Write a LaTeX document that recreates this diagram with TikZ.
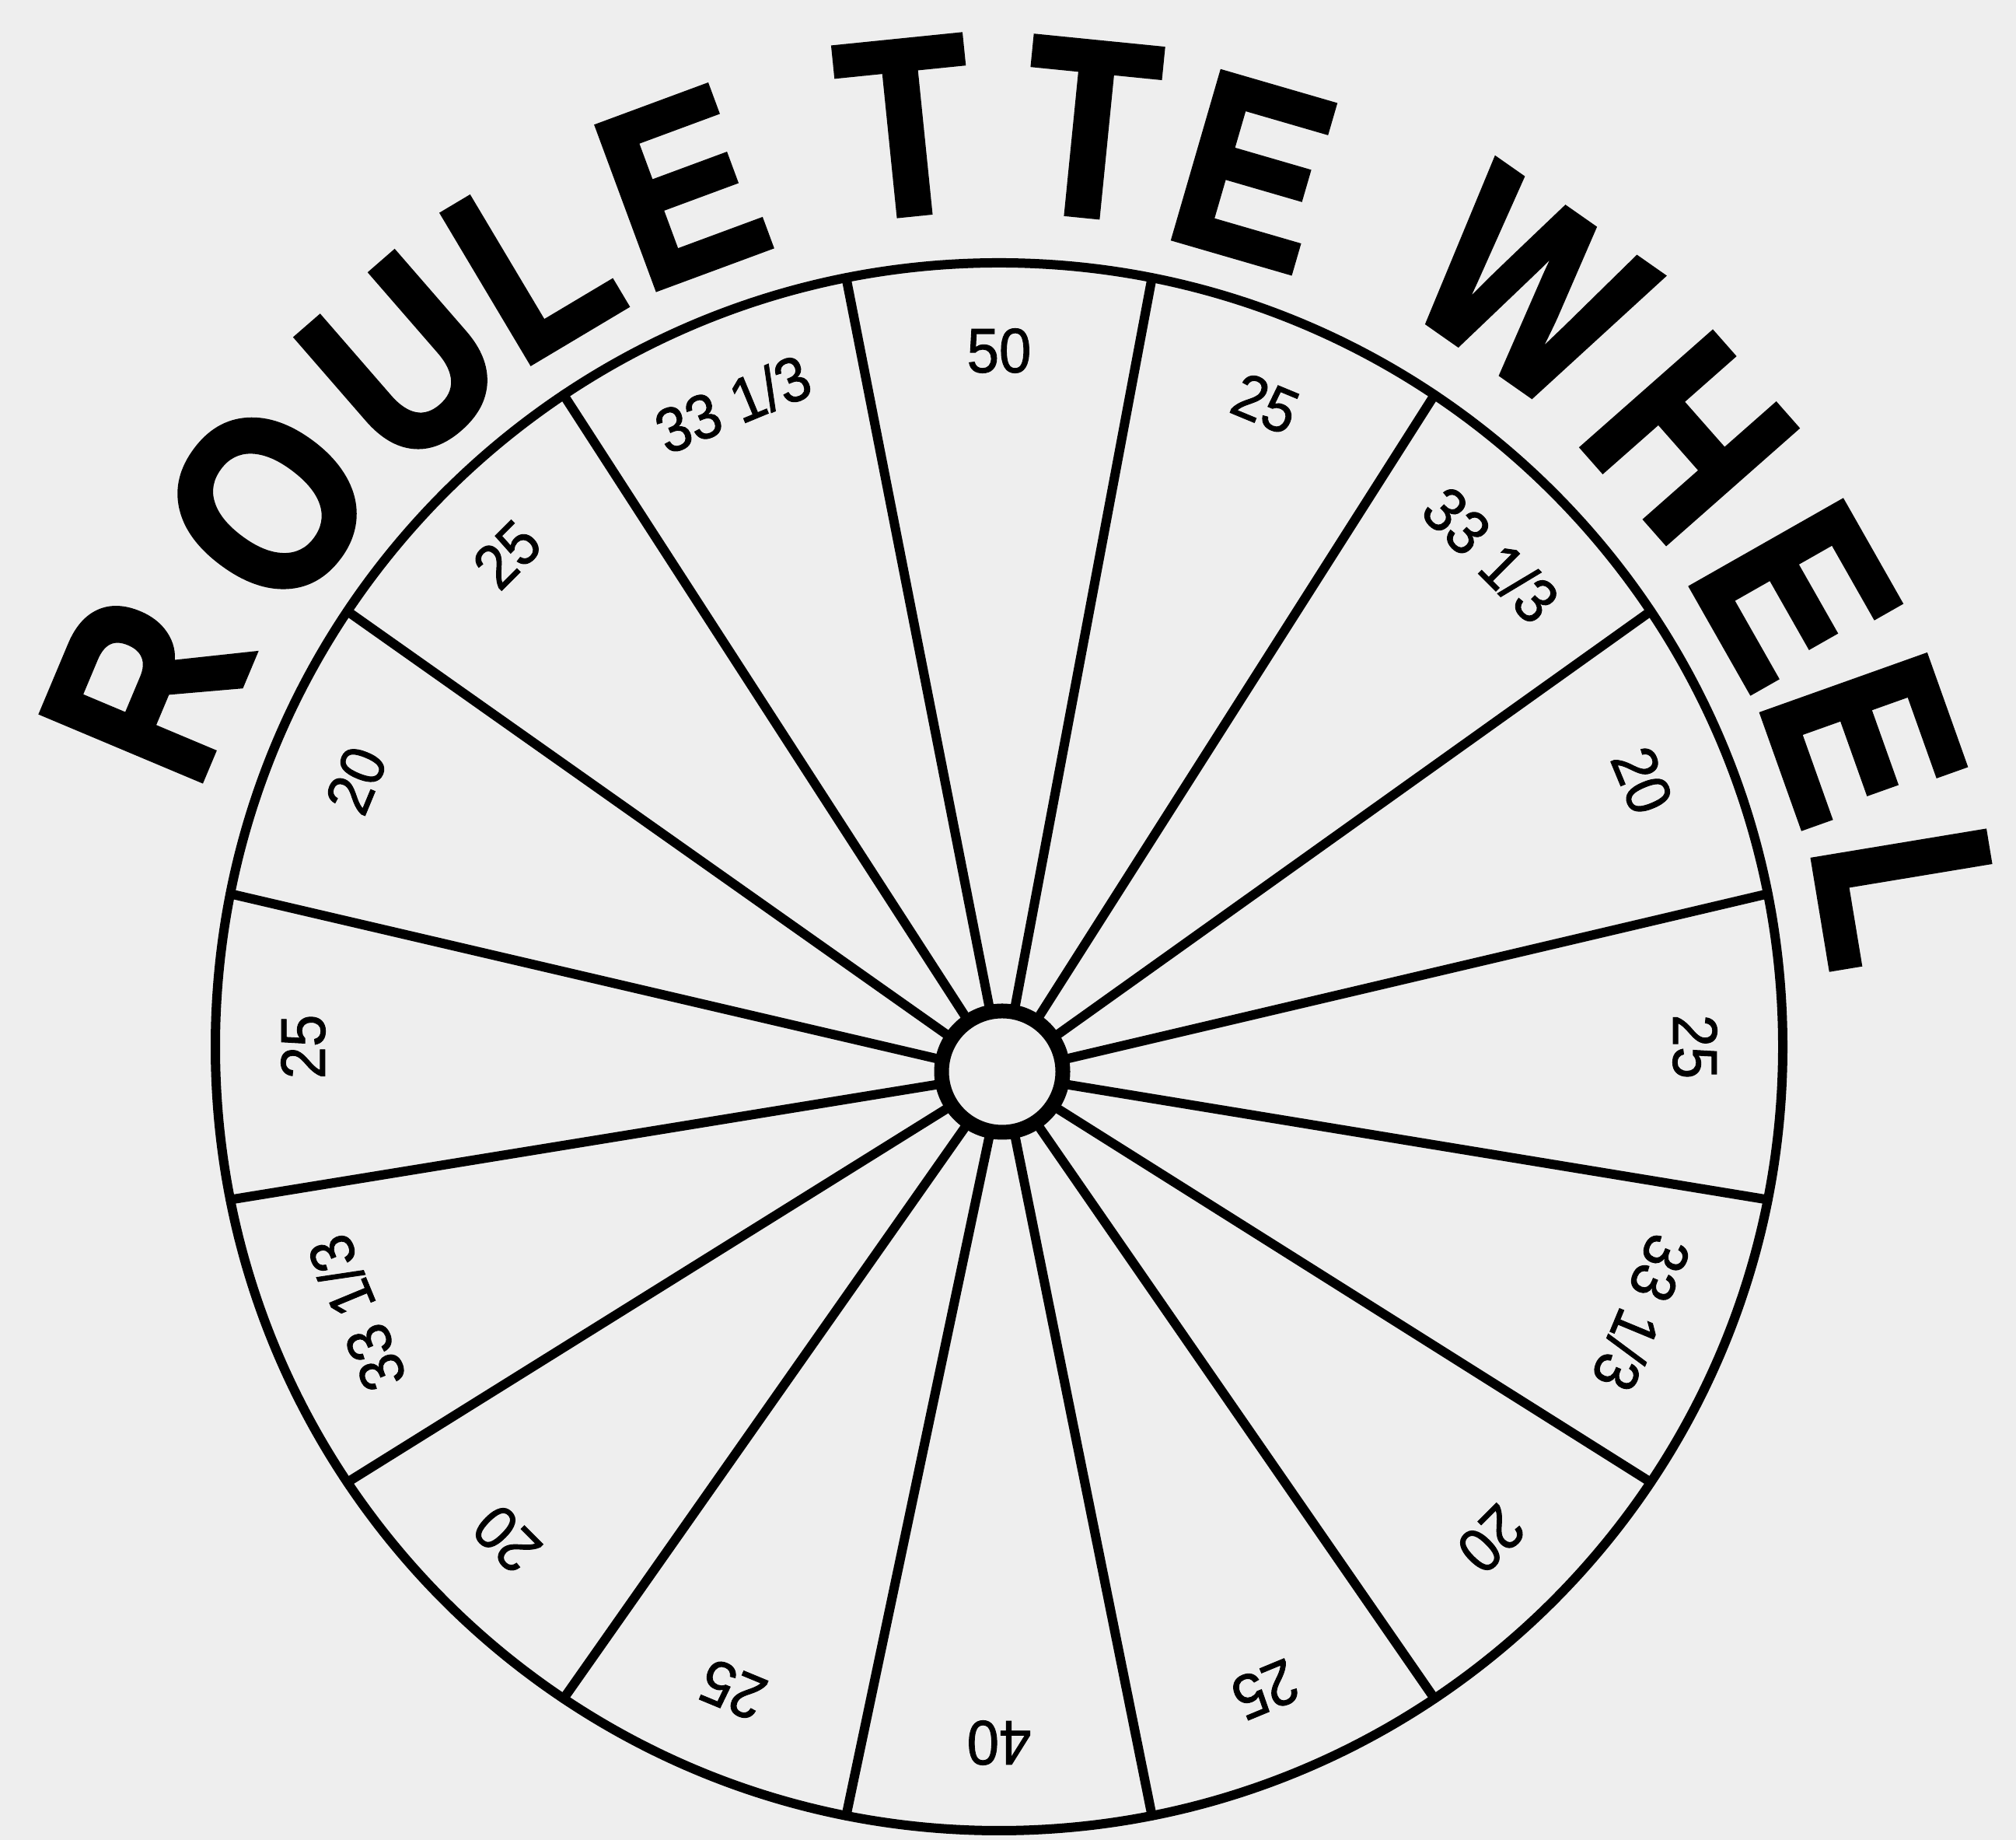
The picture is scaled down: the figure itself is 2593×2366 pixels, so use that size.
\documentclass[tikz,border=0pt]{standalone}
\usepackage{fontspec}
\setmainfont{Liberation Sans}
\newfontfamily\titlefont[FakeBold=2.2]{Liberation Sans Bold}
\newfontfamily\labfont[FakeBold=1.2]{Liberation Sans}
\usetikzlibrary{calc}
\definecolor{paper}{RGB}{238,238,238}
\begin{document}
\begin{tikzpicture}[x=0.1mm,y=0.1mm,
  rim/.style={line width=1.2mm},
  spoke/.style={line width=1.2mm, line cap=round},
  hubring/.style={line width=1.9mm, fill=paper},
  lab/.style={font=\labfont\fontsize{23}{23}\selectfont, inner sep=0pt},
  ttl/.style={font=\titlefont\fontsize{92}{92}\selectfont, inner sep=0pt}]
\fill[paper] (0,0) rectangle (2593,2366);
\useasboundingbox (0,0) rectangle (2593,2366);
\coordinate (W) at (1285,1020);
\coordinate (H) at (1289,988);
% rim
\draw[rim] (W) circle[radius=1008];
% spokes
\foreach \a [count=\i] in {11.25,33.75,...,348.75} {
  \coordinate (si\i) at ($(H)+(\a:86)$);
  \coordinate (so\i) at ($(W)+(\a:1008)$);
  \draw[spoke] (si\i) -- (so\i);
}
% hub
\draw[hubring] (H) circle[radius=78];
% labels
\newcommand{\nr}[1]{\scalebox{0.92}[1]{#1}}
\node[lab, rotate=0]      (l1)  at ($(W)+(90:895)$)    {\nr{50}};
\node[lab, rotate=-22.5]  (l2)  at ($(W)+(67.5:895)$)  {\nr{25}};
\node[lab, rotate=-45]    (l3)  at ($(W)+(45:895)$)    {\nr{33 1/3}};
\node[lab, rotate=-67.5]  (l4)  at ($(W)+(22.5:895)$)  {\nr{20}};
\node[lab, rotate=-90]    (l5)  at ($(W)+(0:895)$)     {\nr{25}};
\node[lab, rotate=-112.5] (l6)  at ($(W)+(-22.5:895)$) {\nr{33 1/3}};
\node[lab, rotate=-135]   (l7)  at ($(W)+(-45:895)$)   {\nr{20}};
\node[lab, rotate=-157.5] (l8)  at ($(W)+(-67.5:895)$) {\nr{25}};
\node[lab, rotate=180]    (l9)  at ($(W)+(-90:895)$)   {\nr{40}};
\node[lab, rotate=157.5]  (l10) at ($(W)+(-112.5:895)$){\nr{25}};
\node[lab, rotate=135]    (l11) at ($(W)+(-135:895)$)  {\nr{20}};
\node[lab, rotate=112.5]  (l12) at ($(W)+(-157.5:895)$){\nr{33 1/3}};
\node[lab, rotate=90]     (l13) at ($(W)+(180:895)$)   {\nr{25}};
\node[lab, rotate=67.5]   (l14) at ($(W)+(157.5:895)$) {\nr{20}};
\node[lab, rotate=45]     (l15) at ($(W)+(135:895)$)   {\nr{25}};
\node[lab, rotate=22.5]   (l16) at ($(W)+(112.5:895)$) {\nr{33 1/3}};
% title
\foreach \ang/\rad/\ch [count=\j] in {157.2/1190/R,143.4/1172/O,131.0/1168/U,120.8/1175/L,110.3/1178/E,95.8/1188/T,84.3/1186/T,73.8/1172/E,55.0/1190/W,41.4/1184/H,29.6/1178/E,19.6/1180/E,9.4/1184/L} {
  \node[ttl, rotate=\ang-90] (t\j) at ($(W)+(\ang:\rad)$) {\scalebox{0.86}[1]{\ch}};
}
\end{tikzpicture}
\end{document}
